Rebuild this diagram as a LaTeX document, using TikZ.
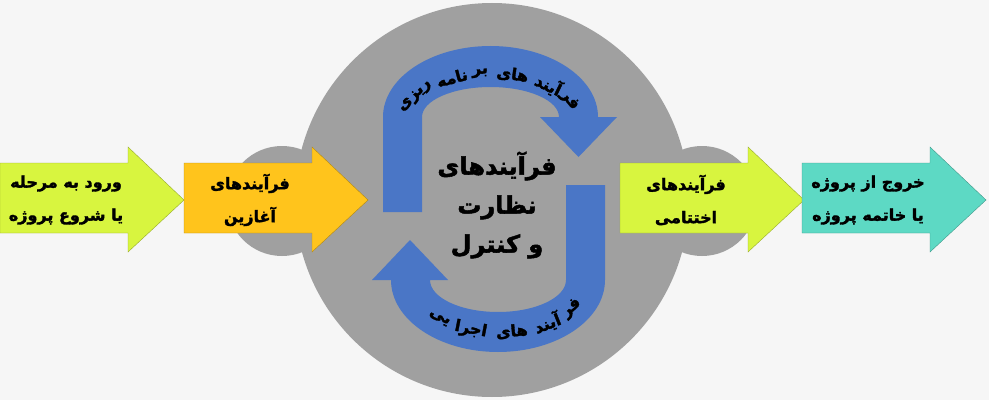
\documentclass[tikz,border=0pt]{standalone}
\usepackage{fontspec}
\newfontfamily\farsi[Script=Arabic,BoldFeatures={FakeBold=2}]{DejaVu Sans}
\TeXXeTstate=1
\definecolor{pagebg}{HTML}{F6F6F6}
\definecolor{ringgray}{HTML}{A0A0A0}
\definecolor{bandblue}{HTML}{4A76C6}
\definecolor{limegreen}{HTML}{D8F53F}
\definecolor{goldorange}{HTML}{FFC41C}
\definecolor{tealgreen}{HTML}{5DD9C4}
\tikzset{
  arrowtext/.style={align=center,font=\farsi\bfseries\fontsize{16}{33}\selectfont},
  bandtext/.style={inner sep=0pt,font=\farsi\bfseries\fontsize{16}{18}\selectfont},
  ringfill/.style={fill=ringgray,draw=none},
  bandfill/.style={fill=bandblue,draw=none}
}
\begin{document}
\begin{tikzpicture}[x=1pt,y=1pt]
  \fill[pagebg] (0,0) rectangle (989,400);
  \useasboundingbox (0,0) rectangle (989,400);
  % gray discs
  \fill[ringfill] (492,200) circle (197);
  \fill[ringfill] (282,199) circle (55);
  \fill[ringfill] (702,199) circle (55);
  % planning band (top)
  \fill[bandfill] (383,188) -- (383,283) arc[start angle=180,end angle=0,x radius=107.5,y radius=71]
    -- (617,283) -- (578.5,243) -- (540,283) -- (559,283)
    arc[start angle=0,end angle=180,x radius=68.5,y radius=30] -- (422,188) -- cycle;
  % executing band (bottom)
  \fill[bandfill] (605,215) -- (605,120) arc[start angle=0,end angle=-180,x radius=107,y radius=72]
    -- (372,120) -- (410,160) -- (448,120) -- (430,120)
    arc[start angle=180,end angle=360,x radius=68,y radius=32] -- (566,215) -- cycle;
  % block arrows
  \foreach \x/\col/\nm/\txt in {
      0/limegreen/entry/{\beginR ورود به مرحله\endR\\\beginR یا شروع پروژه\endR},
      184/goldorange/init/{\beginR فرآیندهای\endR\\\beginR آغازین\endR},
      620/limegreen/closing/{\beginR فرآیندهای\endR\\\beginR اختتامی\endR},
      802/tealgreen/exit/{\beginR خروج از پروژه\endR\\\beginR یا خاتمه پروژه\endR}} {
    \filldraw[fill=\col,draw=\col!70!black,line width=0.4pt]
      (\x,167) -- (\x+128,167) -- (\x+128,148) -- (\x+184,200)
      -- (\x+128,253) -- (\x+128,237) -- (\x,237) -- cycle;
    \node[arrowtext] (\nm) at (\x+66,200) {\txt};
  }
  \node[align=center,font=\farsi\bfseries\fontsize{24}{39}\selectfont] (control) at (497,195)
    {\beginR فرآیندهای\endR\\\beginR نظارت\endR\\\beginR و کنترل\endR};
  % words along the bands
  \foreach \w/\t [count=\i] in {فر/22,آیند/47,های/75,بر/97,نامه/117,ریزی/152}
    \node[bandtext,rotate={atan2(-44*cos(\t),85*sin(\t))}] (plan\i)
      at ({490.5+85*cos(\t)},{283+44*sin(\t)}) {\beginR\w\endR};
  \foreach \w/\t [count=\i] in {فر/327,آیند/304,های/279,اجرا/252,یی/228}
    \node[bandtext,rotate={atan2(52*cos(\t),-88*sin(\t))}] (exec\i)
      at ({498+88*cos(\t)},{120+52*sin(\t)}) {\beginR\w\endR};
\end{tikzpicture}
\end{document}
